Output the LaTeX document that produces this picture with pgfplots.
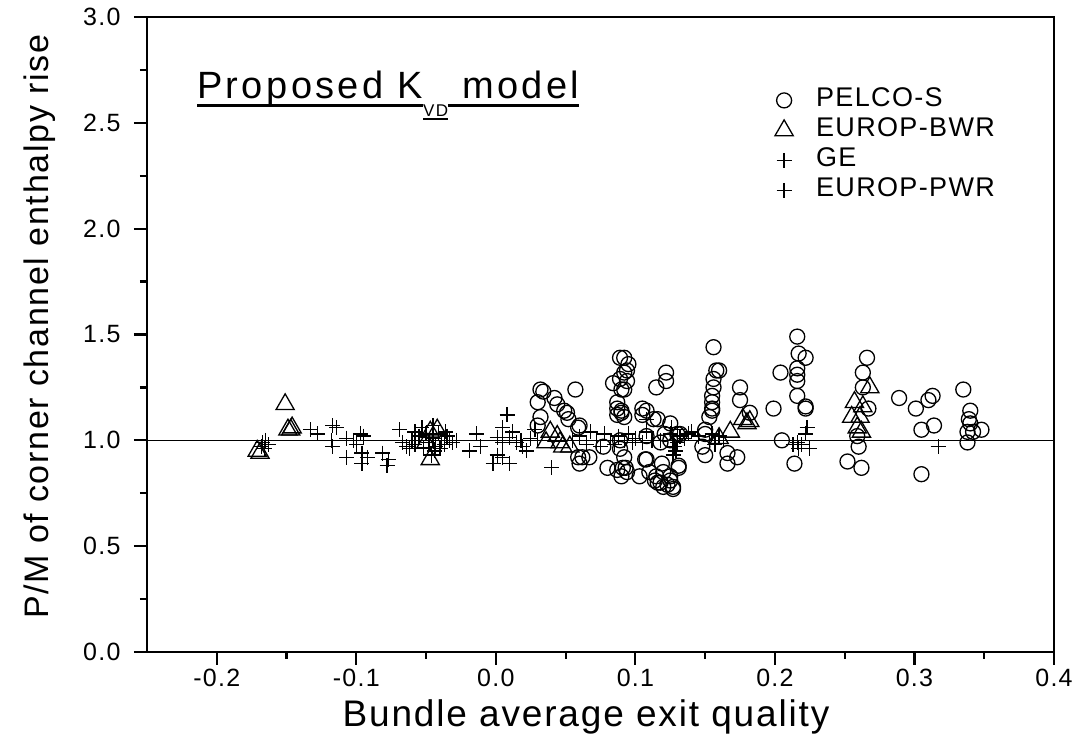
\documentclass[border=0pt]{standalone}
\usepackage{fontspec}
\setmainfont{Liberation Sans}[LetterSpace=5]
\usepackage{pgfplots}
\pgfplotsset{compat=1.18}
\newcommand\ulbox[3]{\setbox0\hbox{#3}\rlap{\rule[-#1]{\wd0}{#2}}\box0}

\begin{document}
\begin{tikzpicture}
\useasboundingbox (0,0) rectangle (1079pt,754pt);
\begin{axis}[
  at={(147pt,102pt)}, anchor=south west,
  scale only axis, width=907pt, height=635pt,
  xmin=-0.25, xmax=0.4, ymin=0, ymax=3,
  xtick={-0.2,-0.1,0,0.1,0.2,0.3,0.4},
  xticklabels={-0.2,-0.1,0.0,0.1,0.2,0.3,0.4},
  ytick={0,0.5,1,1.5,2,2.5,3},
  yticklabels={0.0,0.5,1.0,1.5,2.0,2.5,3.0},
  minor x tick num=1, minor y tick num=1,
  tick align=outside, xtick pos=lower, ytick pos=left,
  tickwidth=13pt, subtickwidth=7pt,
  axis line style={line width=2.2pt},
  every tick/.style={black, line width=2.2pt},
  ticklabel style={font=\fontsize{25}{30}\selectfont},
  xticklabel style={yshift=-1pt},
  yticklabel style={xshift=-10pt},
  every axis x label/.style={at={(axis description cs:0.484,-0.118)}, anchor=base},
  every axis y label/.style={at={(axis description cs:-0.118,0.512)}, rotate=90, anchor=center},
  xlabel style={font=\fontsize{37}{42}\selectfont},
  ylabel style={font=\fontsize{34}{40}\selectfont},
  xlabel={Bundle average exit quality},
  ylabel={P/M of corner channel enthalpy rise},
  clip=false,
  legend style={at={(axis description cs:0.689,0.891)}, anchor=north west, draw=none, fill=none,
    inner sep=0pt, font=\fontsize{27}{30}\selectfont,
    nodes={text height=18pt, text depth=6pt, inner sep=2pt}, row sep=2pt},
  legend cell align=left,
  legend image code/.code={\path[draw=none,fill=none] (0pt,-1pt) rectangle (42pt,1pt); \draw[#1] plot coordinates {(12pt,0pt)};},
]
\addplot[black, line width=1.2pt, forget plot] coordinates {(-0.25,1) (0.4,1)};

% PELCO-S
\addplot[only marks, mark=o, mark size=7.5pt, mark options={line width=1.3pt, black}] coordinates {
(0.032,1.24)(0.030,1.18)(0.032,1.11)(0.030,1.07)
(0.034,1.23)(0.042,1.20)(0.044,1.17)(0.049,1.14)(0.051,1.13)(0.052,1.10)(0.059,1.06)(0.060,1.07)(0.057,1.24)
(0.089,1.39)(0.095,1.36)(0.094,1.33)(0.094,1.28)(0.084,1.27)(0.090,1.24)(0.089,1.29)(0.087,1.18)(0.087,1.15)(0.090,1.13)(0.087,1.12)
(0.092,1.39)(0.092,1.32)(0.092,1.24)(0.090,1.14)(0.092,1.11)
(0.105,1.15)(0.108,1.14)(0.105,1.12)(0.116,1.10)(0.115,1.25)(0.122,1.32)(0.122,1.28)(0.125,1.08)
(0.156,1.44)(0.158,1.33)(0.160,1.33)(0.156,1.29)(0.156,1.25)(0.155,1.21)(0.155,1.18)(0.155,1.15)(0.153,1.11)(0.155,1.14)
(0.059,0.92)(0.060,0.89)(0.062,0.92)(0.067,0.92)(0.077,0.97)(0.080,0.87)(0.087,0.86)(0.090,0.83)(0.091,0.87)(0.089,1.00)(0.089,0.96)
(0.092,0.92)(0.093,0.87)(0.094,0.85)
(0.103,0.83)(0.107,0.91)(0.108,0.91)(0.110,0.85)(0.114,0.81)(0.115,0.83)(0.116,0.80)(0.118,0.80)(0.120,0.78)(0.123,0.79)(0.125,0.81)(0.125,0.83)(0.127,0.77)(0.127,0.78)(0.131,0.87)(0.131,0.88)(0.119,0.89)(0.120,0.85)
(0.121,1.03)(0.125,1.00)(0.108,1.02)(0.113,1.10)(0.130,1.03)(0.132,1.03)(0.118,0.99)(0.148,0.97)(0.150,1.03)(0.150,0.93)(0.150,1.05)
(0.166,0.89)(0.173,0.92)(0.166,0.94)(0.175,1.25)(0.175,1.19)(0.182,1.13)
(0.216,1.49)(0.217,1.41)(0.222,1.39)(0.216,1.34)(0.216,1.31)(0.216,1.28)(0.204,1.32)(0.216,1.21)(0.222,1.15)(0.222,1.16)(0.199,1.15)(0.205,1.00)(0.214,0.89)
(0.266,1.39)(0.263,1.32)(0.263,1.25)(0.267,1.15)(0.259,1.02)(0.260,0.97)(0.252,0.90)(0.262,0.87)
(0.289,1.20)(0.301,1.15)(0.310,1.19)(0.313,1.21)(0.305,1.05)(0.314,1.07)(0.305,0.84)
(0.335,1.24)(0.340,1.14)(0.339,1.10)(0.340,1.08)(0.338,1.04)(0.342,1.04)(0.348,1.05)(0.338,0.99)
};
\addlegendentry{PELCO-S}

% EUROP-BWR
\addplot[only marks, mark=triangle, mark size=10.5pt, mark options={line width=1.3pt, black}] coordinates {
(-0.151,1.17)(-0.149,1.05)(-0.147,1.05)(-0.146,1.06)(-0.171,0.95)(-0.169,0.94)
(-0.047,1.04)(-0.042,1.05)(-0.047,0.91)(-0.050,0.99)
(0.036,0.99)(0.039,1.04)(0.044,1.02)(0.046,0.99)(0.048,0.97)(0.053,0.97)
(0.182,1.09)(0.177,1.10)(0.180,1.08)(0.168,1.04)(0.160,1.01)
(0.268,1.25)(0.257,1.18)(0.263,1.16)(0.261,1.11)(0.255,1.11)(0.259,1.06)(0.262,1.04)
};
\addlegendentry{EUROP-BWR}

% GE
\addplot[only marks, mark=+, mark size=7.5pt, mark options={line width=1.3pt, black}] coordinates {
(-0.168,0.97)(-0.165,1.00)(-0.163,0.98)(-0.166,0.96)(-0.167,0.99)
(-0.133,1.05)(-0.128,1.03)(-0.117,1.07)(-0.114,1.06)(-0.118,1.00)(-0.117,0.97)(-0.107,1.01)(-0.102,1.00)
(-0.097,1.03)(-0.095,1.02)(-0.100,0.98)(-0.096,0.94)(-0.092,0.92)(-0.107,0.92)(-0.096,0.89)
(-0.081,0.94)(-0.077,0.91)(-0.078,0.88)(-0.069,1.05)(-0.067,0.99)(-0.064,0.97)
(-0.060,1.00)(-0.058,0.98)(-0.055,1.02)(-0.052,0.96)(-0.050,1.03)(-0.048,0.99)(-0.045,1.01)(-0.043,0.97)
(-0.041,1.03)(-0.039,1.00)(-0.037,0.98)(-0.035,1.02)(-0.033,1.00)(-0.031,0.99)(-0.046,0.93)(-0.044,0.95)
(-0.058,1.04)(-0.053,1.06)(-0.045,1.07)(-0.040,0.96)(-0.062,0.96)(-0.036,1.04)(-0.028,1.00)
(-0.014,1.03)(-0.011,0.97)(-0.019,0.95)(0.008,1.12)(0.005,1.06)(0.001,1.015)(0.005,0.99)(0.010,1.015)
(0.015,0.99)(0.019,0.97)(0.022,0.95)(0.001,0.93)(0.005,0.92)(0.010,0.89)(-0.002,0.89)(0.012,1.04)
(0.018,1.00)(0.025,1.01)(0.030,1.00)(0.028,1.05)
};
\addlegendentry{GE}

% EUROP-PWR
\addplot[only marks, mark=+, mark size=7.5pt, mark options={line width=1.3pt, black}] coordinates {
(0.040,0.87)(0.055,1.00)(0.060,1.02)(0.065,0.98)(0.068,1.04)(0.072,1.00)(0.075,0.97)(0.078,1.03)
(0.082,1.00)(0.085,0.98)(0.088,1.02)(0.092,1.00)(0.095,1.03)(0.098,0.99)(0.100,1.01)(0.105,0.99)
(0.108,1.04)(0.112,1.00)(0.118,1.00)(0.125,1.03)(0.127,1.00)(0.128,0.97)(0.129,0.95)(0.127,0.93)
(0.130,1.05)(0.132,1.02)(0.135,1.01)(0.138,1.03)(0.140,1.04)(0.145,1.02)(0.153,1.00)(0.155,1.03)
(0.157,0.98)(0.160,1.02)(0.163,1.00)(0.108,1.10)(0.126,1.06)(0.130,0.99)
(0.223,1.06)(0.222,1.03)(0.216,0.99)(0.213,0.98)(0.219,0.98)(0.225,0.96)(0.217,0.96)(0.317,0.97)
};
\addlegendentry{EUROP-PWR}

\node[anchor=base west, inner sep=0pt, font=\fontsize{38}{42}\selectfont\addfontfeatures{LetterSpace=9}]
  at (axis description cs:0.055,0.871)
  {\ulbox{8pt}{3pt}{Proposed K}\raisebox{-18pt}{\fontsize{17}{20}\selectfont\ulbox{3.5pt}{2.5pt}{VD}}\ulbox{8pt}{3pt}{ model}};
\end{axis}
\end{tikzpicture}
\end{document}
